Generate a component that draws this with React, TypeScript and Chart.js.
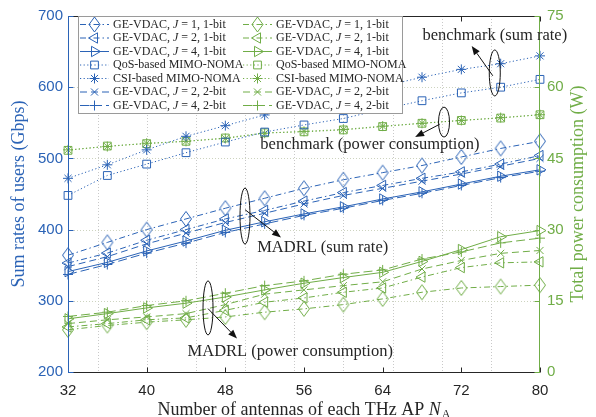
import React, { useEffect, useRef } from 'react';
import { Chart, registerables } from 'chart.js';

Chart.register(...registerables);

// ---------- data ----------
const antennas = [32, 36, 40, 44, 48, 52, 56, 60, 64, 68, 72, 76, 80];
const xTicks = [32, 40, 48, 56, 64, 72, 80];
const xGridValues = [35, 40, 45, 50, 55, 60, 65, 70, 75];
const leftTicks = [200, 300, 400, 500, 600, 700];
const rightTicks = [0, 15, 30, 45, 60, 75];

// Sum rate (Gbps), left axis
const rateJ1b1 = [364, 382, 400, 415, 430, 444, 458, 470, 480, 490, 502, 514, 524];
const rateJ2b1 = [353, 367, 385, 400, 415, 427, 440, 452, 462, 472, 481, 492, 504];
const rateJ4b1 = [341, 354, 370, 384, 399, 411, 422, 432, 443, 453, 464, 475, 484];
const rateQoS = [448, 476, 492, 508, 523, 537, 547, 556, 569, 581, 592, 600, 611];
const rateCSI = [472, 491, 512, 531, 546, 561, 575, 588, 601, 614, 625, 633, 644];
const rateJ2b2 = [348, 362, 380, 395, 410, 423, 436, 448, 458, 468, 478, 489, 500];
const rateJ4b2 = [337, 351, 367, 381, 396, 408, 420, 430, 441, 451, 462, 473, 482];

// Total power consumption (W), right axis
const powJ1b1 = [8.9, 9.8, 10.5, 11.0, 11.6, 12.6, 13.3, 14.2, 15.4, 16.8, 17.7, 18.0, 18.3];
const powJ2b1 = [9.5, 10.2, 11.0, 11.4, 13.0, 14.7, 15.6, 16.8, 17.7, 20.0, 22.0, 23.0, 23.2];
const powJ4b1 = [11.2, 12.3, 13.5, 14.5, 15.8, 17.3, 18.7, 19.9, 21.0, 23.3, 25.8, 28.5, 29.8];
const powQoS = [46.7, 47.6, 48.1, 48.6, 49.3, 50.4, 50.6, 51.0, 51.7, 52.4, 53.0, 53.5, 54.2];
const powCSI = [46.8, 47.5, 48.2, 48.6, 49.2, 50.3, 50.7, 51.1, 51.8, 52.4, 53.0, 53.6, 54.2];
const powJ2b2 = [10.2, 11.0, 11.6, 12.3, 14.2, 16.4, 17.3, 18.2, 19.0, 21.7, 23.5, 25.0, 25.6];
const powJ4b2 = [11.7, 12.6, 14.0, 15.0, 16.6, 18.2, 19.2, 20.6, 21.5, 23.8, 25.3, 27.2, 28.2];

// ---------- styles ----------
const BLUE = '#2b63b6';
const GREEN = '#70ad47';
const TEXT = '#262626';
const SERIF = '"Liberation Serif", "Times New Roman", serif';
const SANS = '"Liberation Sans", Arial, sans-serif';

const DASHDOT = [6, 3, 1.5, 3];
const DASHED = [7, 4];
const DOTTED = [1.2, 2.4];

type Kind = { key: string; pre: string; post: string; dash: number[]; point: string; r: number; rot: number };
const kinds: Kind[] = [
  { key: 'J1b1', pre: 'GE-VDAC, ', post: ' = 1, 1-bit', dash: DASHDOT, point: 'diamond', r: 6, rot: 0 },
  { key: 'J2b1', pre: 'GE-VDAC, ', post: ' = 2, 1-bit', dash: DASHDOT, point: 'triangle', r: 6, rot: -90 },
  { key: 'J4b1', pre: 'GE-VDAC, ', post: ' = 4, 1-bit', dash: [], point: 'triangle', r: 6, rot: 90 },
  { key: 'QoS', pre: 'QoS-based MIMO-NOMA', post: '', dash: DOTTED, point: 'rect', r: 5.5, rot: 0 },
  { key: 'CSI', pre: 'CSI-based MIMO-NOMA', post: '', dash: DOTTED, point: 'star', r: 5, rot: 0 },
  { key: 'J2b2', pre: 'GE-VDAC, ', post: ' = 2, 2-bit', dash: DASHED, point: 'crossRot', r: 5, rot: 0 },
  { key: 'J4b2', pre: 'GE-VDAC, ', post: ' = 4, 2-bit', dash: [9, 4], point: 'cross', r: 5, rot: 0 },
];

const rateSeries: Record<string, number[]> = {
  J1b1: rateJ1b1, J2b1: rateJ2b1, J4b1: rateJ4b1, QoS: rateQoS, CSI: rateCSI, J2b2: rateJ2b2, J4b2: rateJ4b2,
};
const powSeries: Record<string, number[]> = {
  J1b1: powJ1b1, J2b1: powJ2b1, J4b1: powJ4b1, QoS: powQoS, CSI: powCSI, J2b2: powJ2b2, J4b2: powJ4b2,
};

const DIA_W = 5.5, DIA_H = 7.5;

function diamondImage(color: string) {
  const c = document.createElement('canvas');
  c.width = 14; c.height = 18;
  const g = c.getContext('2d')!;
  g.strokeStyle = color;
  g.lineWidth = 1;
  g.beginPath();
  g.moveTo(7, 9 - DIA_H); g.lineTo(7 + DIA_W, 9); g.lineTo(7, 9 + DIA_H); g.lineTo(7 - DIA_W, 9); g.closePath();
  g.stroke();
  return c;
}

function makeDataset(k: Kind, values: number[], color: string, axis: string, dia: HTMLCanvasElement) {
  return {
    label: k.pre + (k.post ? 'J' + k.post : ''),
    data: antennas.map((x, i) => ({ x, y: values[i] })),
    yAxisID: axis,
    borderColor: color,
    backgroundColor: color,
    borderWidth: 1,
    borderDash: k.dash,
    pointStyle: k.point === 'diamond' ? dia : k.point,
    pointRadius: k.r,
    pointRotation: k.rot,
    pointBorderColor: color,
    pointBackgroundColor: 'rgba(0,0,0,0)',
    pointBorderWidth: 1,
    tension: 0,
    fill: false,
    clip: false as any,
  };
}

function drawMarker(ctx: CanvasRenderingContext2D, style: string, x: number, y: number, r: number, rot: number) {
  ctx.beginPath();
  if (style === 'diamond') {
    ctx.moveTo(x, y - DIA_H); ctx.lineTo(x + DIA_W, y); ctx.lineTo(x, y + DIA_H); ctx.lineTo(x - DIA_W, y); ctx.closePath();
  } else if (style === 'rect') {
    const s = r * Math.SQRT1_2;
    ctx.rect(x - s, y - s, 2 * s, 2 * s);
  } else if (style === 'triangle') {
    let a = (rot * Math.PI) / 180;
    for (let i = 0; i < 3; i++) {
      const px = x + Math.sin(a) * r, py = y - Math.cos(a) * r;
      if (i === 0) ctx.moveTo(px, py); else ctx.lineTo(px, py);
      a += (2 * Math.PI) / 3;
    }
    ctx.closePath();
  } else {
    const d = r * Math.SQRT1_2;
    if (style === 'cross' || style === 'star') {
      ctx.moveTo(x, y - r); ctx.lineTo(x, y + r); ctx.moveTo(x - r, y); ctx.lineTo(x + r, y);
    }
    if (style === 'crossRot' || style === 'star') {
      ctx.moveTo(x - d, y - d); ctx.lineTo(x + d, y + d); ctx.moveTo(x - d, y + d); ctx.lineTo(x + d, y - d);
    }
  }
  ctx.stroke();
}

function arrow(ctx: CanvasRenderingContext2D, x1: number, y1: number, x2: number, y2: number) {
  const ang = Math.atan2(y2 - y1, x2 - x1);
  const L = 9, W = 3.5;
  const bx = x2 - Math.cos(ang) * L, by = y2 - Math.sin(ang) * L;
  ctx.beginPath();
  ctx.moveTo(x1, y1); ctx.lineTo(bx, by); ctx.stroke();
  ctx.beginPath();
  ctx.moveTo(x2, y2);
  ctx.lineTo(bx + Math.sin(ang) * W, by - Math.cos(ang) * W);
  ctx.lineTo(bx - Math.sin(ang) * W, by + Math.cos(ang) * W);
  ctx.closePath();
  ctx.fill();
}

// annotation anchors in data units (x: antennas, y: left-axis Gbps)
const notes = [
  { text: 'benchmark (sum rate)', tx: 75.4, ty: 672, ex: 75.4, ey: 620, rx: 5.5, ry: 23, ax1: 75.2, ay1: 616, ax2: 73.05, ay2: 658 },
  { text: 'benchmark (power consumption)', tx: 62.7, ty: 519, ex: 70.24, ey: 551, rx: 5.5, ry: 15, ax1: 69.8, ay1: 548, ax2: 67.3, ay2: 530 },
  { text: 'MADRL (sum rate)', tx: 57.9, ty: 374, ex: 50.0, ey: 419, rx: 5, ry: 28, ax1: 50.0, ay1: 428, ax2: 53.66, ay2: 389 },
  { text: 'MADRL (power consumption)', tx: 54.6, ty: 229, ex: 46.24, ey: 290, rx: 5, ry: 27, ax1: 46.24, ay1: 289, ax2: 49.19, ay2: 247 },
];

const overlay = {
  id: 'overlay',
  beforeDatasetsDraw(chart: any) {
    const { ctx, chartArea: a, scales } = chart;
    const xs = scales.x, ys = scales.y;
    ctx.save();
    ctx.lineWidth = 1;
    ctx.setLineDash([1, 2]);
    ctx.strokeStyle = '#c9c9c9';
    xGridValues.forEach((v) => {
      const px = Math.round(xs.getPixelForValue(v)) + 0.5;
      ctx.beginPath(); ctx.moveTo(px, a.top); ctx.lineTo(px, a.bottom); ctx.stroke();
    });
    ctx.strokeStyle = '#cdd3bf';
    leftTicks.slice(1, -1).forEach((v) => {
      const py = Math.round(ys.getPixelForValue(v)) + 0.5;
      ctx.beginPath(); ctx.moveTo(a.left, py); ctx.lineTo(a.right, py); ctx.stroke();
    });
    ctx.restore();
  },
  afterDatasetsDraw(chart: any) {
    const { ctx, chartArea: a, scales } = chart;
    const xs = scales.x, ys = scales.y, y2 = scales.y1;
    ctx.save();
    ctx.setLineDash([]);
    ctx.lineWidth = 1;
    const L = Math.round(a.left) + 0.5, R = Math.round(a.right) - 0.5;
    const T = Math.round(a.top) + 0.5, B = Math.round(a.bottom) + 0.5;
    // top & bottom borders
    ctx.strokeStyle = TEXT;
    ctx.beginPath(); ctx.moveTo(L, T); ctx.lineTo(R, T); ctx.moveTo(L, B); ctx.lineTo(R, B); ctx.stroke();
    xTicks.forEach((v) => {
      const px = Math.round(xs.getPixelForValue(v)) + 0.5;
      ctx.beginPath(); ctx.moveTo(px, B); ctx.lineTo(px, B - 5); ctx.moveTo(px, T); ctx.lineTo(px, T + 5); ctx.stroke();
    });
    // left axis
    ctx.strokeStyle = BLUE;
    ctx.beginPath(); ctx.moveTo(L, a.top); ctx.lineTo(L, a.bottom + 1); ctx.stroke();
    leftTicks.forEach((v) => {
      const py = Math.round(ys.getPixelForValue(v)) + 0.5;
      ctx.beginPath(); ctx.moveTo(L, py); ctx.lineTo(L + 5, py); ctx.stroke();
    });
    // right axis
    ctx.strokeStyle = GREEN;
    ctx.beginPath(); ctx.moveTo(R, a.top); ctx.lineTo(R, a.bottom + 1); ctx.stroke();
    rightTicks.forEach((v) => {
      const py = Math.round(y2.getPixelForValue(v)) + 0.5;
      ctx.beginPath(); ctx.moveTo(R, py); ctx.lineTo(R - 5, py); ctx.stroke();
    });

    // annotations
    ctx.strokeStyle = '#111';
    ctx.fillStyle = '#111';
    notes.forEach((n) => {
      ctx.beginPath();
      ctx.ellipse(xs.getPixelForValue(n.ex), ys.getPixelForValue(n.ey), n.rx, n.ry, 0, 0, Math.PI * 2);
      ctx.stroke();
      arrow(ctx, xs.getPixelForValue(n.ax1), ys.getPixelForValue(n.ay1), xs.getPixelForValue(n.ax2), ys.getPixelForValue(n.ay2));
    });
    ctx.fillStyle = TEXT;
    ctx.font = '16.5px ' + SERIF;
    ctx.textAlign = 'center';
    ctx.textBaseline = 'middle';
    notes.forEach((n) => {
      ctx.fillText(n.text, xs.getPixelForValue(n.tx), ys.getPixelForValue(n.ty));
    });

    // legend
    const bx = 78.5, by = 16.5, bw = 324, bh = 97;
    ctx.fillStyle = '#ffffff';
    ctx.fillRect(bx, by, bw, bh);
    ctx.strokeStyle = '#9a9a9a';
    ctx.strokeRect(bx, by, bw, bh);
    ctx.textAlign = 'left';
    ctx.textBaseline = 'middle';
    [BLUE, GREEN].forEach((color, c) => {
      const sx = c === 0 ? 80 : 243;
      kinds.forEach((k, r) => {
        const y = 24.5 + r * 13.5;
        ctx.strokeStyle = color;
        ctx.lineWidth = 1;
        ctx.setLineDash(k.dash);
        ctx.beginPath(); ctx.moveTo(sx, y); ctx.lineTo(sx + 29, y); ctx.stroke();
        ctx.setLineDash([]);
        drawMarker(ctx, k.point, sx + 14.5, y, k.r, k.rot);
        let tx = sx + 33;
        ctx.fillStyle = TEXT;
        ctx.font = '12px ' + SERIF;
        ctx.fillText(k.pre, tx, y);
        tx += ctx.measureText(k.pre).width;
        if (k.post) {
          ctx.font = 'italic 12px ' + SERIF;
          ctx.fillText('J', tx, y);
          tx += ctx.measureText('J').width;
          ctx.font = '12px ' + SERIF;
          ctx.fillText(k.post, tx, y);
        }
      });
    });

    // axis titles
    ctx.font = '18px ' + SERIF;
    ctx.textAlign = 'center';
    ctx.textBaseline = 'middle';
    ctx.fillStyle = BLUE;
    ctx.save();
    ctx.translate(19, (a.top + a.bottom) / 2);
    ctx.rotate(-Math.PI / 2);
    ctx.fillText('Sum rates of users (Gbps)', 0, 0);
    ctx.restore();
    ctx.fillStyle = GREEN;
    ctx.save();
    ctx.translate(578, (a.top + a.bottom) / 2);
    ctx.rotate(-Math.PI / 2);
    ctx.fillText('Total power consumption (W)', 0, 0);
    ctx.restore();

    // x title with italic N and subscript A
    ctx.fillStyle = TEXT;
    const main = 'Number of antennas of each THz AP ';
    ctx.font = '18px ' + SERIF;
    const w1 = ctx.measureText(main).width;
    ctx.font = 'italic 18px ' + SERIF;
    const w2 = ctx.measureText('N').width;
    ctx.font = '12px ' + SERIF;
    const w3 = ctx.measureText('A').width;
    const total = w1 + w2 + w3 + 1;
    let x0 = (a.left + a.right) / 2 - total / 2;
    const ty = 410;
    ctx.textAlign = 'left';
    ctx.font = '18px ' + SERIF;
    ctx.fillText(main, x0, ty);
    x0 += w1;
    ctx.font = 'italic 18px ' + SERIF;
    ctx.fillText('N', x0, ty);
    x0 += w2 + 1;
    ctx.font = '12px ' + SERIF;
    ctx.fillText('A', x0, ty + 5);
    ctx.restore();
  },
};

export default function App() {
  const ref = useRef<HTMLCanvasElement | null>(null);
  useEffect(() => {
    document.body.style.margin = '0';
    const canvas = ref.current;
    if (!canvas) return;
    const diaBlue = diamondImage(BLUE);
    const diaGreen = diamondImage(GREEN);
    const datasets: any[] = [];
    kinds.forEach((k) => datasets.push(makeDataset(k, rateSeries[k.key], BLUE, 'y', diaBlue)));
    kinds.forEach((k) => datasets.push(makeDataset(k, powSeries[k.key], GREEN, 'y1', diaGreen)));
    const chart = new Chart(canvas, {
      type: 'line',
      data: { datasets },
      options: {
        animation: false,
        responsive: false,
        devicePixelRatio: 1,
        layout: { padding: { top: 13, left: 0, right: 0, bottom: 0 } },
        plugins: { legend: { display: false }, tooltip: { enabled: false }, title: { display: false } },
        scales: {
          x: {
            type: 'linear',
            min: 32,
            max: 80,
            afterBuildTicks: (s: any) => { s.ticks = xTicks.map((v) => ({ value: v })); },
            afterFit: (s: any) => { s.height = 45; },
            grid: { display: false, drawTicks: false },
            border: { display: false },
            ticks: { autoSkip: false, maxRotation: 0, padding: 10, color: TEXT, font: { family: SANS, size: 15 } },
          },
          y: {
            type: 'linear',
            position: 'left',
            min: 200,
            max: 700,
            afterBuildTicks: (s: any) => { s.ticks = leftTicks.map((v) => ({ value: v })); },
            afterFit: (s: any) => { s.width = 68; },
            grid: { display: false, drawTicks: false },
            border: { display: false },
            ticks: { autoSkip: false, padding: 5, color: BLUE, font: { family: SANS, size: 15 } },
          },
          y1: {
            type: 'linear',
            position: 'right',
            min: 0,
            max: 75,
            afterBuildTicks: (s: any) => { s.ticks = rightTicks.map((v) => ({ value: v })); },
            afterFit: (s: any) => { s.width = 56; },
            grid: { display: false, drawTicks: false },
            border: { display: false },
            ticks: { autoSkip: false, padding: 7, color: GREEN, font: { family: SANS, size: 15 } },
          },
        },
      },
      plugins: [overlay],
    } as any);
    return () => chart.destroy();
  }, []);
  return <canvas ref={ref} width={596} height={417} style={{ display: 'block' }} />;
}
